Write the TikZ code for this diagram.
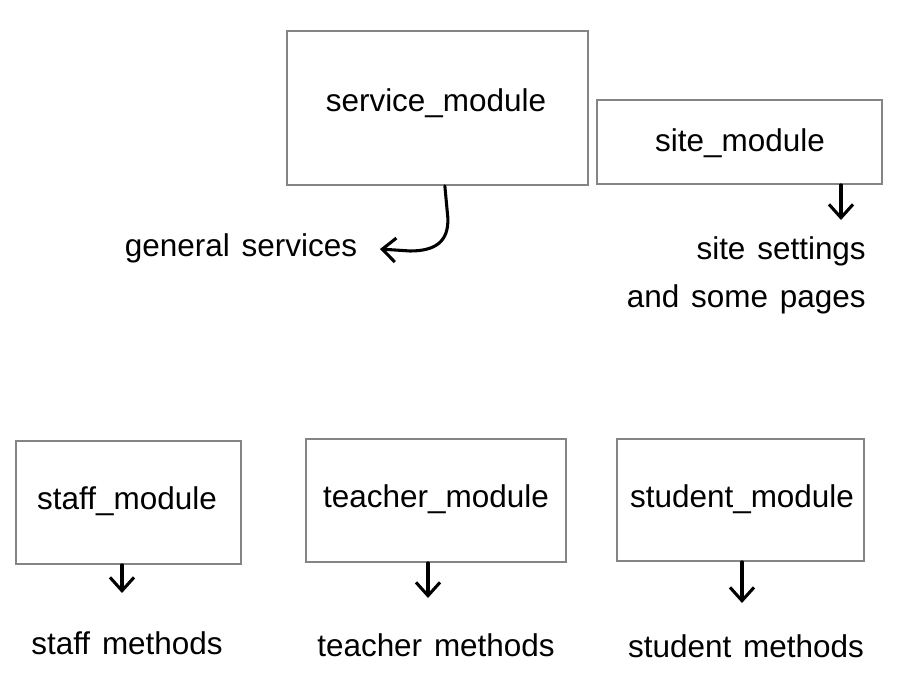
\documentclass[tikz,border=0pt]{standalone}
\usepackage{fontspec}
\setmainfont{Liberation Sans}[WordSpace=1.35]
\usetikzlibrary{arrows.meta,fit}
\tikzset{
  modbox/.style={draw=black!48, line width=1.3pt, inner sep=0pt, rectangle},
  txt/.style={inner sep=0pt, font=\fontsize{23.6pt}{28pt}\selectfont},
  hand/.style={line width=2.3pt, line cap=round, line join=round,
    -{Straight Barb[length=10pt,width=18pt]}}
}
\begin{document}
\begin{tikzpicture}[x=0.75pt,y=-0.75pt]
\useasboundingbox[fill=white] (0,0) rectangle (913,688);
% boxes
\node[modbox, fit={(287,31) (588,185)}] (service) {};
\node[modbox, fit={(597,100) (882,184)}] (site) {};
\node[modbox, fit={(16,441) (241,564)}] (staff) {};
\node[modbox, fit={(306,439) (566,562)}] (teacher) {};
\node[modbox, fit={(617,439) (864,561)}] (student) {};
% box titles
\node[txt] (serviceT) at (436,103) {service\_module};
\node[txt] (siteT) at (740,143) {site\_module};
\node[txt] (staffT) at (127,501) {staff\_module};
\node[txt] (teacherT) at (436,499) {teacher\_module};
\node[txt] (studentT) at (742,499) {student\_module};
% labels
\node[txt] (general) at (241,248) {general services};
\node[txt, anchor=east] (siteA) at (866,251) {site settings};
\node[txt, anchor=east] (siteB) at (866,299) {and some pages};
\node[txt] (staffL) at (127,643) {staff methods};
\node[txt] (teacherL) at (436,645) {teacher methods};
\node[txt] (studentL) at (746,646) {student methods};
% tips
\coordinate (genTip) at (380,249);
\coordinate (siteTip) at (841,220);
\coordinate (staffTip) at (122,593);
\coordinate (teacherTip) at (428,598);
\coordinate (studentTip) at (742,603);
% connectors
\draw[hand] ([xshift=5.5pt]service.south) -- ++(3,32) .. controls +(1,24) and +(25,0) .. (410,251) -- (genTip);
\draw[hand] (site.south -| siteTip) -- (siteTip);
\draw[hand] (staff.south -| staffTip) -- (staffTip);
\draw[hand] (teacher.south -| teacherTip) -- (teacherTip);
\draw[hand] (student.south -| studentTip) -- (studentTip);
\end{tikzpicture}
\end{document}
